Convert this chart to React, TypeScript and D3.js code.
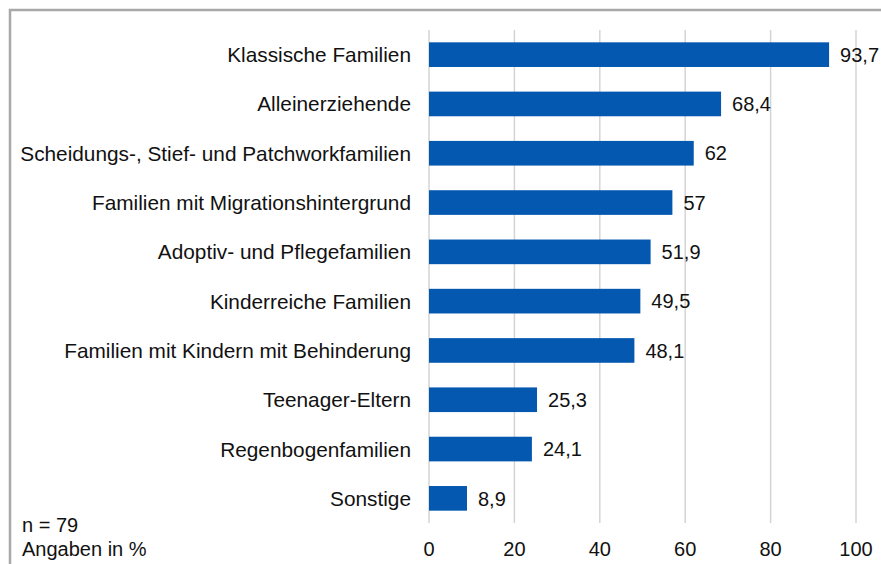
import React from "react";
import * as d3 from "d3";

const categories = [
  "Klassische Familien",
  "Alleinerziehende",
  "Scheidungs-, Stief- und Patchworkfamilien",
  "Familien mit Migrationshintergrund",
  "Adoptiv- und Pflegefamilien",
  "Kinderreiche Familien",
  "Familien mit Kindern mit Behinderung",
  "Teenager-Eltern",
  "Regenbogenfamilien",
  "Sonstige",
];
const values = [93.7, 68.4, 62, 57, 51.9, 49.5, 48.1, 25.3, 24.1, 8.9];
const ticks = [0, 20, 40, 60, 80, 100];
const notes = ["n = 79", "Angaben in %"];

const W = 881;
const H = 564;
const FONT = "'Liberation Sans', Arial, Helvetica, sans-serif";

export default function App() {
  const x = d3.scaleLinear().domain([0, 100]).range([429, 856]);
  const y = d3
    .scaleBand<string>()
    .domain(categories)
    .range([30, 523])
    .paddingInner(0.5)
    .paddingOuter(0.25);
  const fmt = (v: number) => String(v).replace(".", ",");
  return (
    <svg
      width={W}
      height={H}
      style={{ position: "absolute", left: 0, top: 0, background: "#fff" }}
      fontFamily={FONT}
    >
      <rect x={10} y={10} width={900} height={600} fill="#fff" stroke="#a8a8a8" strokeWidth={2.5} />
      {ticks.map((t) => (
        <g key={t}>
          <line x1={x(t)} x2={x(t)} y1={30} y2={523} stroke="#d4d4d4" strokeWidth={1.5} />
          <text x={x(t)} y={556} textAnchor="middle" fontSize={20} fill="#111">
            {t}
          </text>
        </g>
      ))}
      {categories.map((c, i) => {
        const yc = (y(c) as number) + y.bandwidth() / 2;
        return (
          <g key={c}>
            <rect
              x={x(0)}
              y={y(c) as number}
              width={x(values[i]) - x(0)}
              height={y.bandwidth()}
              fill="#0558b0"
            />
            <text x={411} y={yc} dy="0.36em" textAnchor="end" fontSize={20.8} fill="#111">
              {c}
            </text>
            <text x={x(values[i]) + 11} y={yc} dy="0.36em" fontSize={20} fill="#111">
              {fmt(values[i])}
            </text>
          </g>
        );
      })}
      <text x={22} y={532} fontSize={20} fill="#111">
        {notes[0]}
      </text>
      <text x={22} y={556} fontSize={20} fill="#111">
        {notes[1]}
      </text>
    </svg>
  );
}
